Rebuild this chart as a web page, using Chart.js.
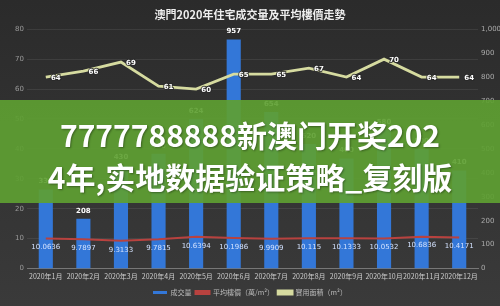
<!DOCTYPE html>
<html>
<head>
<meta charset="utf-8">
<script src="https://cdn.jsdelivr.net/npm/chart.js@4.4.1/dist/chart.umd.min.js"></script>
<style>
    html, body { margin: 0; padding: 0; }
    body {
        width: 500px; height: 306px; overflow: hidden; position: relative;
        background: linear-gradient(#2b2b2b, #3a3a3a);
    }
    #chartBox { position: absolute; left: 0; top: 0; width: 500px; height: 306px; }
    #banner {
        position: absolute; left: 0; top: 100px; width: 500px; height: 103px;
        background: rgba(94, 160, 50, 0.92);
        padding-top: 12px; box-sizing: border-box;
    }
    #banner div {
        color: #fff; text-align: center; line-height: 42px; height: 42px;
        font: bold 30px "Noto Sans CJK SC", sans-serif; white-space: nowrap;
        text-shadow: 1px 1px 2px rgba(0, 0, 0, 0.35);
    }
</style>
</head>
<body>
<div id="chartBox"><canvas id="chart" width="500" height="306"></canvas></div>
<div id="banner">
    <div>7777788888新澳门开奖202</div>
    <div>4年,实地数据验证策略_复刻版</div>
</div>
<script>
// 月份
const months = ["2020年1月", "2020年2月", "2020年3月", "2020年4月", "2020年5月", "2020年6月",
    "2020年7月", "2020年8月", "2020年9月", "2020年10月", "2020年11月", "2020年12月"];
// 成交量 (右軸)
const volume = [330, 208, 430, 480, 624, 957, 654, 520, 460, 580, 500, 410];
// 平均樓價 萬/m² (左軸)
const avgPrice = [10.0636, 9.7897, 9.3133, 9.7815, 10.6394, 10.1986, 9.9909, 10.115, 10.1333, 10.0532, 10.6836, 10.4171];
// 實用面積 m² (左軸)
const usableArea = [64, 66, 69, 61, 60, 65, 65, 67, 64, 70, 64, 64];

const leftTicks = { min: 0, max: 80, step: 10 };
const rightTicks = { min: 0, max: 1000, step: 100 };

const seriesNames = ["成交量", "平均樓價（萬/m²）", "實用面積（m²）"];

// 數值標籤
const valueLabels = {
    id: "valueLabels",
    afterDatasetsDraw(chart) {
        const ctx = chart.ctx;
        ctx.save();
        ctx.textAlign = "center";
        ctx.textBaseline = "middle";

        // 柱子上面的數字
        ctx.font = "bold 7px 'DejaVu Sans'";
        ctx.fillStyle = "#ffffff";
        chart.getDatasetMeta(0).data.forEach((el, i) => {
            ctx.fillText(volume[i], el.x, el.y - 8);
        });

        // 平均樓價 (線下面)
        ctx.font = "7px 'DejaVu Sans'";
        ctx.fillStyle = "#d3e2ff";
        chart.getDatasetMeta(1).data.forEach((el, i) => {
            ctx.fillText(avgPrice[i], el.x, el.y + 9);
        });

        // 實用面積 (點的右邊)
        ctx.font = "bold 7px 'DejaVu Sans'";
        ctx.lineWidth = 2;
        ctx.strokeStyle = "rgba(40,40,40,0.8)";
        chart.getDatasetMeta(2).data.forEach((el, i) => {
            ctx.strokeText(usableArea[i], el.x + 10, el.y + 1);
            ctx.fillStyle = "#ffffff";
            ctx.fillText(usableArea[i], el.x + 10, el.y + 1);
        });
        ctx.restore();
    }
};

const ctx = document.getElementById("chart").getContext("2d");

new Chart(ctx, {
    data: {
        labels: months,
        datasets: [{
            type: "bar",
            label: seriesNames[0],
            data: volume,
            yAxisID: "y1",
            backgroundColor: "#3377d8",
            borderWidth: 0,
            categoryPercentage: 0.8,
            barPercentage: 0.47,
            order: 1
        }, {
            type: "line",
            label: seriesNames[1],
            data: avgPrice,
            yAxisID: "y",
            borderColor: "#b8423f",
            backgroundColor: "#b8423f",
            borderWidth: 2,
            pointRadius: 0,
            tension: 0,
            order: 0
        }, {
            type: "line",
            label: seriesNames[2],
            data: usableArea,
            yAxisID: "y",
            borderColor: "#d6dba0",
            backgroundColor: "#d6dba0",
            borderWidth: 2.8,
            pointRadius: 0,
            tension: 0,
            order: 0
        }]
    },
    options: {
        responsive: false,
        animation: false,
        layout: { padding: { left: 0, right: 0, top: 0, bottom: 0 } },
        plugins: {
            title: {
                display: true,
                text: "澳門2020年住宅成交量及平均樓價走勢",
                color: "#eeeeee",
                font: { family: "'Noto Sans CJK TC'", size: 11, weight: "bold" },
                padding: { top: 8, bottom: 8 }
            },
            legend: {
                position: "bottom",
                labels: {
                    color: "#bbbbbb",
                    font: { family: "'Noto Sans CJK TC'", size: 7 },
                    boxWidth: 14,
                    boxHeight: 3,
                    padding: 4,
                    sort: (a, b) => a.datasetIndex - b.datasetIndex
                }
            },
            tooltip: { enabled: false }
        },
        scales: {
            x: {
                grid: { display: false, drawTicks: false },
                border: { color: "#777777" },
                ticks: {
                    color: "#cccccc",
                    font: { family: "'Noto Sans CJK TC'", size: 7 },
                    maxRotation: 0,
                    autoSkip: false,
                    padding: 4
                }
            },
            y: {
                position: "left",
                min: leftTicks.min,
                max: leftTicks.max,
                grid: { color: "rgba(255,255,255,0.08)", drawTicks: false },
                border: { display: false },
                ticks: {
                    stepSize: leftTicks.step,
                    color: "#9a9a9a",
                    font: { family: "'DejaVu Sans'", size: 7 },
                    padding: 3
                },
                afterFit: (scale) => { scale.width = 27; }
            },
            y1: {
                position: "right",
                min: rightTicks.min,
                max: rightTicks.max,
                grid: { display: false, drawTicks: false },
                border: { display: false },
                ticks: {
                    stepSize: rightTicks.step,
                    color: "#aaaaaa",
                    font: { family: "'DejaVu Sans'", size: 7 },
                    padding: 3
                },
                afterFit: (scale) => { scale.width = 22; }
            }
        }
    },
    plugins: [valueLabels]
});
</script>
</body>
</html>
